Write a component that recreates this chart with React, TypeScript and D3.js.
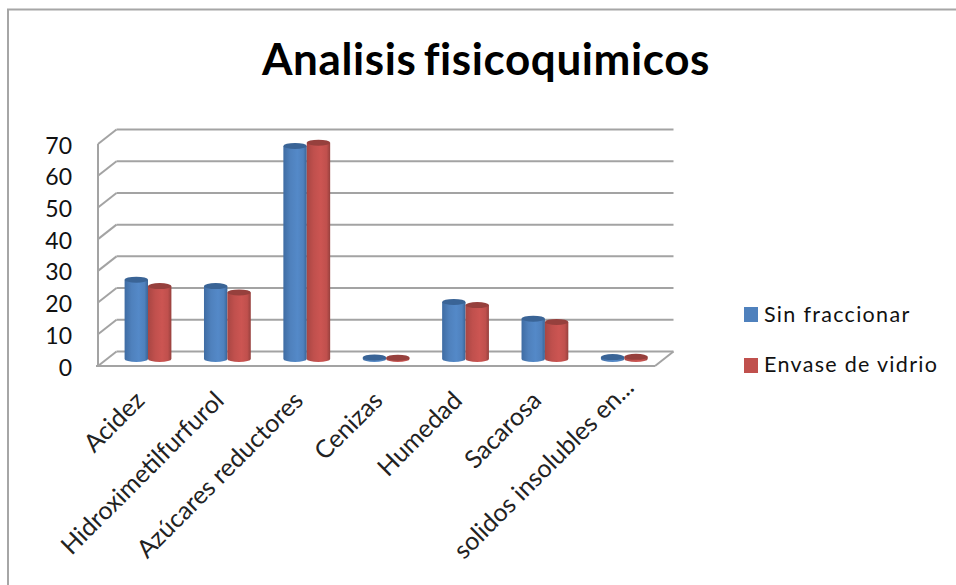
import React from "react";
import * as d3 from "d3";

const categories = [
  "Acidez",
  "Hidroximetilfurfurol",
  "Azúcares reductores",
  "Cenizas",
  "Humedad",
  "Sacarosa",
  "solidos insolubles en...",
];
const sinFraccionar = [25, 23, 67.2, 0.5, 18, 12.7, 0.6];
const envaseVidrio = [23, 21, 68.2, 0.4, 17, 11.7, 0.7];
const seriesNames = ["Sin fraccionar", "Envase de vidrio"];
const seriesColors = ["#4f81bd", "#c0504d"];
const seriesDark = ["#3a6496", "#96403d"];
const seriesEdge = ["#3f6ca3", "#a84643"];
const seriesLight = ["#5489c8", "#cc5552"];

const WIDTH = 956;
const HEIGHT = 585;
const FONT = "Lato, 'Open Sans', sans-serif";

// Projected box: the front plane plus a fixed offset towards the back wall.
const frontLeft = 98;
const frontRight = 655;
const depthX = 18.5;
const depthY = -14.5;
const front0 = 366;
const front70 = 144;
const barShiftY = -7;

const y = d3.scaleLinear().domain([0, 70]).range([front0, front70]);
const x = d3.scaleBand<string>().domain(categories).range([108.3, 664]);
const barWidth = 23.4;
const ry = 3;

function cylinderBody(cx: number, top: number, bottom: number) {
  const l = cx - barWidth / 2;
  const r = cx + barWidth / 2;
  return `M${l},${top}L${l},${bottom}A${barWidth / 2},${ry} 0 0 0 ${r},${bottom}L${r},${top}Z`;
}

export default function App() {
  const ticks = y.ticks(7);
  const grid = "#a3a3a3";
  return (
    <svg
      width={WIDTH}
      height={HEIGHT}
      viewBox={`0 0 ${WIDTH} ${HEIGHT}`}
      style={{ position: "fixed", left: 0, top: 0, display: "block", background: "#fff" }}
    >
      <defs>
        {seriesColors.map((c, i) => (
          <linearGradient key={c} id={`cyl${i}`} x1="0" x2="1" y1="0" y2="0">
            <stop offset="0" stopColor={seriesEdge[i]} />
            <stop offset="0.3" stopColor={c} />
            <stop offset="0.6" stopColor={seriesLight[i]} />
            <stop offset="0.85" stopColor={c} />
            <stop offset="1" stopColor={seriesDark[i]} />
          </linearGradient>
        ))}
      </defs>

      {/* Chart frame, open towards the right and bottom edges */}
      <path d={`M8,${HEIGHT}L8,9.5L${WIDTH},9.5`} fill="none" stroke="#a6a6a6" strokeWidth={2} />

      <text
        x={486}
        y={75}
        textAnchor="middle"
        fontFamily={FONT}
        fontWeight={700}
        fontSize={44}
        letterSpacing={0.6}
        wordSpacing={-4}
        fill="#000"
      >
        Analisis fisicoquimicos
      </text>

      {/* Back wall gridlines and their diagonals on the side wall */}
      {ticks.map((t) => (
        <g key={t} stroke={grid} strokeWidth={2} fill="none">
          <line
            x1={frontLeft + depthX}
            x2={frontRight + depthX}
            y1={y(t) + depthY}
            y2={y(t) + depthY}
          />
          <line x1={frontLeft} x2={frontLeft + depthX} y1={y(t)} y2={y(t) + depthY} />
        </g>
      ))}

      {/* Front edges of the wall and floor */}
      <g stroke={grid} strokeWidth={2} fill="none">
        <line x1={frontLeft} x2={frontLeft} y1={y(70)} y2={y(0)} />
        <line x1={frontLeft - 2} x2={frontRight} y1={y(0)} y2={y(0)} />
        <line x1={frontRight} x2={frontRight + depthX} y1={y(0)} y2={y(0) + depthY} />
      </g>

      {ticks.map((t) => (
        <text
          key={t}
          x={72}
          y={y(t) + 9.5}
          textAnchor="end"
          fontFamily={FONT}
          fontSize={23}
          fill="#111"
        >
          {t}
        </text>
      ))}

      {/* Cylinders */}
      {categories.map((cat, i) => {
        const cx = (x(cat) as number) + x.bandwidth() / 2;
        return [sinFraccionar[i], envaseVidrio[i]].map((v, s) => {
          const barX = cx + (s === 0 ? -barWidth / 2 : barWidth / 2);
          const top = y(v) + barShiftY;
          const bottom = y(0) + barShiftY;
          return (
            <g key={`${cat}-${s}`}>
              <path d={cylinderBody(barX, top, bottom)} fill={`url(#cyl${s})`} />
              <ellipse
                cx={barX}
                cy={top}
                rx={barWidth / 2}
                ry={ry}
                fill={seriesDark[s]}
              />
            </g>
          );
        });
      })}

      {/* Slanted category labels, anchored at their right end; the truncated
          last label runs further along its slant */}
      {categories.map((cat, i) => {
        const cx = (x(cat) as number) + x.bandwidth() / 2;
        const extra = i === categories.length - 1 ? 13 : 0;
        return (
          <text
            key={cat}
            transform={`translate(${cx - 2 + extra},${402 - extra}) rotate(-45)`}
            textAnchor="end"
            fontFamily={FONT}
            fontSize={25}
            fill="#222"
          >
            {cat}
          </text>
        );
      })}

      {/* Legend */}
      {seriesNames.map((name, i) => (
        <g key={name}>
          <rect x={744} y={307 + i * 51} width={14} height={15} fill={seriesColors[i]} />
          <text
            x={764}
            y={322 + i * 50}
            fontFamily={FONT}
            fontSize={21.5}
            letterSpacing={1.3}
            fill="#111"
          >
            {name}
          </text>
        </g>
      ))}
    </svg>
  );
}
